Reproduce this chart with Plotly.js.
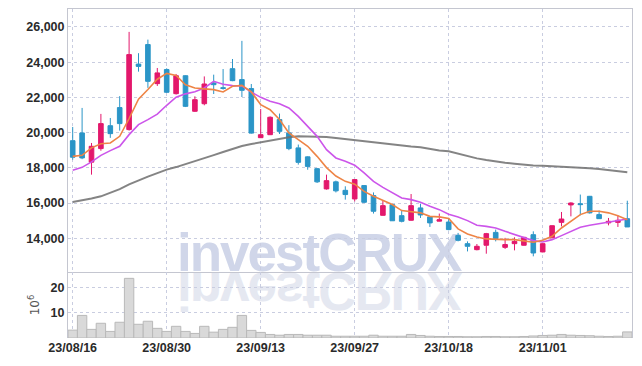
<!DOCTYPE html>
<html>
<head>
<meta charset="utf-8">
<script src="https://cdn.plot.ly/plotly-3.0.1.min.js"></script>
<style>
  html, body { margin:0; padding:0; background:#ffffff; }
  #wrap { position:relative; width:642px; height:366px; overflow:hidden; }
  #chart { position:absolute; left:0; top:0; width:642px; height:366px; z-index:1; }
  .wm { position:absolute; left:177px; top:226px; font-family:"Liberation Sans", Arial, sans-serif; font-weight:900;
        font-size:53px; line-height:53px; letter-spacing:-2px; white-space:nowrap; z-index:0; }
  #wm1 { color:#d0d6e9; }
  #wm2 { color:#e5e8f1; transform-origin:0 46px; transform:scaleY(-1); }
</style>
</head>
<body>
<div id="wrap">
  <div class="wm" id="wm1">investCRUX</div>
  <div class="wm" id="wm2">investCRUX</div>
  <div id="chart"></div>
</div>
<script>
const dates = [
 "23/08/16","23/08/17","23/08/18","23/08/21","23/08/22","23/08/23","23/08/24","23/08/25","23/08/28","23/08/29",
 "23/08/30","23/08/31","23/09/01","23/09/04","23/09/05","23/09/06","23/09/07","23/09/08","23/09/11","23/09/12",
 "23/09/13","23/09/14","23/09/15","23/09/18","23/09/19","23/09/20","23/09/21","23/09/22","23/09/25","23/09/26",
 "23/09/27","23/10/04","23/10/05","23/10/06","23/10/10","23/10/11","23/10/12","23/10/13","23/10/16","23/10/17",
 "23/10/18","23/10/19","23/10/20","23/10/23","23/10/24","23/10/25","23/10/26","23/10/27","23/10/30","23/10/31",
 "23/11/01","23/11/02","23/11/03","23/11/06","23/11/07","23/11/08","23/11/09","23/11/10","23/11/13","23/11/14"];

const openP = [19540,19980,18320,19090,20390,21420,20170,23890,25000,22780,
 23580,22210,23230,21210,21640,22820,22550,23630,23010,22500,
 19710,19880,20740,19980,19130,18620,17950,16800,17200,16720,
 16230,16990,16420,15300,15910,15280,15020,15720,15210,14970,
 14920,14150,13690,13350,13600,14330,13480,13690,13600,14200,
 13220,14020,14900,15890,15960,16380,15340,14870,14900,15110];
const highP = [20320,21400,19410,21060,20830,22070,25720,24510,25280,23670,
 23650,23330,23250,22060,23190,23290,23610,24180,25210,22760,
 21340,20920,21080,20420,19320,18650,17990,17610,17270,16950,
 17360,17000,16600,16130,15950,15570,16510,15960,15240,15400,
 15150,14300,13820,13670,14300,14490,14020,14050,14060,14390,
 13700,14720,15490,16040,16480,16400,15570,15150,15300,16130];
const lowP = [18460,18490,17610,18970,19700,20110,20110,23460,22540,22650,
 22250,22160,21450,21170,21550,22190,22440,22920,22020,19940,
 19700,19860,19920,19000,18180,17890,17140,16760,16600,16190,
 16090,16000,15400,15290,14980,14900,15000,15150,14640,14960,
 14450,13820,13250,13310,13120,13820,13390,13310,13580,12970,
 13200,14000,14670,15240,15300,15400,15100,14730,14640,14640];
const closeP = [18600,18560,19220,20510,19940,20510,24430,23760,22910,23390,
 22290,23230,21490,21870,22760,22720,22510,22950,22400,19970,
 19880,20870,20070,19090,18310,18080,17200,17270,16690,16480,
 17330,16040,15530,15850,14990,14960,15850,15320,14870,15050,
 14490,13880,13540,13540,14260,13980,13640,13820,14050,13160,
 13690,14710,15090,16000,15910,15440,15110,14960,15020,14640];

const ma5 = [18650,18710,19130,19370,19410,19790,20800,21900,22450,23030,
 23360,23250,22720,22530,22480,22440,22310,22630,22680,22310,
 21590,21300,20740,19980,19600,19220,18650,18010,17530,17230,
 17070,16660,16380,16150,15910,15570,15490,15440,15240,15210,
 15120,14530,14240,14070,13960,13920,13920,13920,13860,13770,
 13880,14110,14580,14960,15340,15530,15530,15440,15280,15050];
const ma20 = [17855,18026,18332,18707,18974,19218,19883,20451,20735,21050,
 21550,22010,22200,22320,22535,22910,22740,22666,22650,22300,
 22001,21774,21643,21399,20922,20354,19786,19031,18559,18366,
 18150,17707,17230,16889,16571,16287,16190,16037,15810,15622,
 15360,15208,14998,14731,14674,14583,14390,14203,14015,13862,
 13788,13918,14146,14390,14617,14731,14827,14901,14998,15094];
const ma60 = [16060,16150,16260,16380,16580,16790,17060,17300,17500,17700,
 17894,18040,18200,18370,18545,18720,18900,19076,19240,19350,
 19450,19540,19640,19740,19786,19786,19770,19752,19695,19630,
 19570,19510,19445,19395,19330,19265,19210,19170,19070,18985,
 18940,18800,18660,18535,18445,18360,18292,18235,18180,18133,
 18116,18093,18070,18048,18008,17974,17934,17872,17810,17753];

const volume = [3.1,8.9,3.4,5.8,2.6,6.2,23.5,5.4,6.6,3.8,
 2.6,4.6,2.6,1.8,4.6,2.3,3.4,4.2,8.9,3.0,
 2.2,1.4,1.1,1.4,1.4,1.1,1.1,1.1,0.7,0.7,
 0.7,0.7,1.1,0.7,0.7,0.7,1.4,1.0,0.7,0.6,
 0.6,0.6,0.5,0.5,0.6,0.6,0.5,0.5,0.6,0.8,
 1.0,1.1,1.4,1.1,1.0,0.9,0.7,0.6,0.7,2.4];

const tickDates = ["23/08/16","23/08/30","23/09/13","23/09/27","23/10/18","23/11/01"];
const priceTicks = [14000,16000,18000,20000,22000,24000,26000];
const volTicks = [10,20];

const RED = "#e3186c", BLUE = "#2b95c7";
const gridC = "#c9cde0", lineC = "#c4c6d0";
const tickFont = {family:"Liberation Sans, Arial, sans-serif", size:12.5, color:"#2a2a2a", weight:"bold"};

const traces = [
  {type:"scatter", mode:"lines", x:dates, y:ma60, xaxis:"x", yaxis:"y",
   line:{color:"rgba(110,110,110,0.85)", width:2}, hoverinfo:"skip"},
  {type:"candlestick", x:dates, open:openP, high:highP, low:lowP, close:closeP, xaxis:"x", yaxis:"y",
   increasing:{line:{color:RED, width:1}, fillcolor:RED},
   decreasing:{line:{color:BLUE, width:1}, fillcolor:BLUE}},
  {type:"scatter", mode:"lines", x:dates, y:ma20, xaxis:"x", yaxis:"y",
   line:{color:"#cc55ea", width:1.6}, hoverinfo:"skip"},
  {type:"scatter", mode:"lines", x:dates, y:ma5, xaxis:"x", yaxis:"y",
   line:{color:"#ee8446", width:1.6}, hoverinfo:"skip"},
  {type:"bar", x:dates, y:volume, xaxis:"x2", yaxis:"y2",
   marker:{color:"#d9d9d9", line:{color:"#b9b9b9", width:1}}}
];

const layout = {
  width:642, height:366,
  margin:{l:68, r:10, t:9, b:28},
  paper_bgcolor:"rgba(0,0,0,0)", plot_bgcolor:"rgba(0,0,0,0)",
  showlegend:false, bargap:0,
  xaxis:{type:"category", domain:[0,1], anchor:"y", range:[-0.5,59.5],
    rangeslider:{visible:false}, tickmode:"array", tickvals:tickDates, showticklabels:false,
    showgrid:true, gridcolor:gridC, griddash:"dot", gridwidth:1,
    showline:true, mirror:true, linecolor:lineC, linewidth:1, ticks:"", zeroline:false, fixedrange:true},
  xaxis2:{type:"category", domain:[0,1], anchor:"y2", matches:"x", range:[-0.5,59.5],
    tickmode:"array", tickvals:tickDates, ticktext:tickDates, tickfont:tickFont,
    showgrid:true, gridcolor:gridC, griddash:"dot", gridwidth:1,
    showline:false, ticks:"", zeroline:false},
  yaxis:{domain:[0.2006,1], anchor:"x", range:[12080,27020], tickmode:"array", tickvals:priceTicks,
    tickformat:",d", tickfont:tickFont, showgrid:true, gridcolor:gridC, griddash:"dot", gridwidth:1,
    showline:true, mirror:true, linecolor:lineC, linewidth:1, ticks:"", zeroline:false},
  yaxis2:{domain:[0,0.2006], anchor:"x2", range:[0,26], tickmode:"array", tickvals:volTicks,
    tickfont:tickFont, showgrid:true, gridcolor:gridC, griddash:"dot", gridwidth:1,
    showline:true, mirror:true, linecolor:lineC, linewidth:1, ticks:"", zeroline:false,
    title:{text:"10<sup>6</sup>", font:{family:"DejaVu Sans, sans-serif", size:12, color:"#555"}, standoff:8}}
};

Plotly.newPlot("chart", traces, layout, {staticPlot:true, displayModeBar:false});
</script>
</body>
</html>
